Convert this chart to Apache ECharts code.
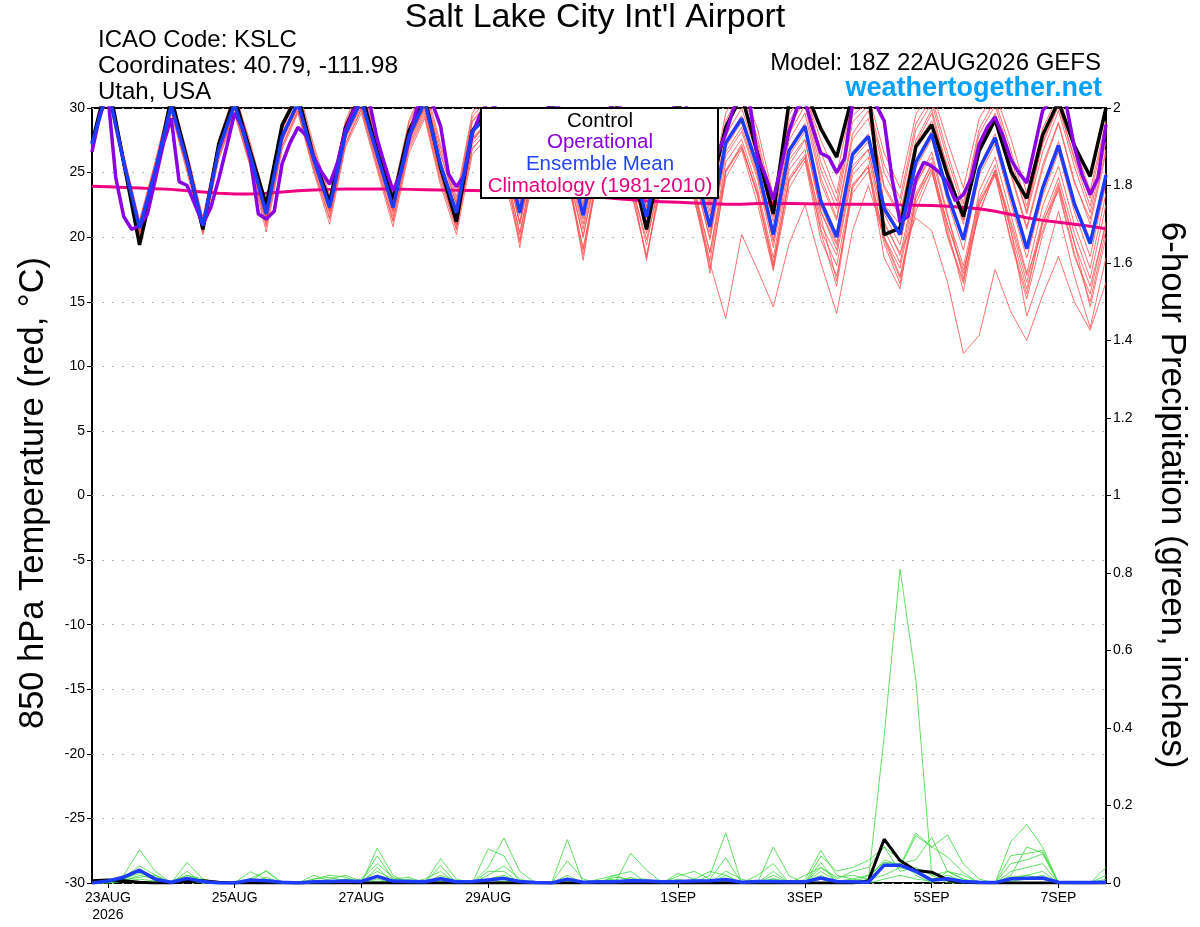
<!DOCTYPE html>
<html><head><meta charset="utf-8">
<script src="https://cdn.jsdelivr.net/npm/echarts@6/dist/echarts.min.js"></script>
<style>html,body{margin:0;padding:0;background:#fff}#c{width:1200px;height:927px}</style>
</head><body><div id="c"></div>
<script>
const FONT = '"Liberation Sans", Arial, Helvetica, sans-serif';

// x tick labels (6-hourly categories from 22AUG 18Z)
const xTickIndex = [1, 9, 17, 25, 37, 45, 53, 61];
const xTickLabels = ['23AUG\n2026', '25AUG', '27AUG', '29AUG', '1SEP', '3SEP', '5SEP', '7SEP'];

// Control (black) 850 hPa temperature, 6-hourly
const control = [
27.3,32.2,25.8,19.4,24.8,30.8,26.0,20.6,27.2,30.8,26.6,22.5,28.7,31.0,26.1,22.7,
28.5,31.2,26.6,22.9,28.2,30.8,25.4,21.2,28.2,30.0,26.8,23.4,28.0,30.5,26.5,23.3,
28.0,30.6,26.0,20.6,26.5,30.5,26.8,23.5,28.5,31.0,26.5,21.8,30.5,31.5,28.4,26.2,
31.0,31.5,20.2,20.7,27.0,28.7,24.8,21.6,26.7,29.1,25.1,23.0,27.9,30.5,27.1,24.7,30.0];

// Ensemble mean (blue)
const ensMean = [
27.2,31.5,25.8,20.7,25.2,30.2,25.8,20.9,26.8,30.3,26.3,21.8,27.8,30.4,26.0,22.3,
28.0,30.6,26.4,22.3,27.8,30.5,25.6,21.9,28.2,29.4,27.0,21.9,27.5,29.8,26.5,21.7,
27.5,29.8,26.0,21.6,27.0,29.5,25.5,20.8,27.3,29.2,25.5,20.2,26.7,28.6,22.8,20.0,
26.4,27.8,22.2,20.2,25.8,28.0,23.3,19.8,25.3,27.7,23.3,19.1,23.8,27.1,22.6,19.5,24.8];

// Operational (purple), 3-hourly
const operational = [
26.6,29.5,31.0,24.6,21.6,20.6,20.9,21.8,24.5,27.2,29.2,24.3,24.0,22.5,21.0,22.3,
24.5,27.0,29.6,28.5,26.0,21.8,21.4,22.0,25.7,27.3,28.5,27.9,26.2,25.0,24.1,25.8,
28.3,29.8,30.5,30.5,27.6,25.5,23.6,25.0,27.5,30.0,30.5,30.3,28.6,24.9,23.9,24.8,
28.0,29.5,30.5,30.0,27.5,25.5,24.0,25.0,27.8,29.5,30.5,30.0,27.5,25.2,23.8,24.8,
27.9,29.7,30.6,29.8,27.2,25.0,23.5,24.5,27.6,29.5,30.8,30.2,27.7,25.6,24.0,26.5,
28.0,30.0,30.8,30.5,26.2,24.8,22.9,25.5,28.2,30.0,30.5,28.4,26.5,26.2,25.0,26.1,
30.3,30.8,30.6,30.2,29.0,24.5,21.2,21.6,24.5,25.8,25.5,25.0,24.2,22.8,23.3,24.6,
27.2,28.5,29.3,27.8,26.0,25.0,24.2,27.0,29.8,30.5,30.8,30.2,27.0,24.8,23.3,24.6,28.7];

// Climatology 1981-2010 (magenta)
const climatology = [
23.95,23.9,23.85,23.8,23.75,23.7,23.6,23.5,23.4,23.35,23.35,23.4,23.5,23.6,23.65,23.7,
23.72,23.73,23.73,23.72,23.7,23.68,23.66,23.64,23.62,23.6,23.55,23.5,23.45,23.4,23.3,23.2,
23.1,23.0,22.9,22.8,22.75,22.7,22.65,22.6,22.55,22.55,22.6,22.62,22.6,22.58,22.56,22.55,
22.55,22.54,22.53,22.5,22.48,22.45,22.4,22.3,22.2,22.0,21.75,21.5,21.3,21.15,21.0,20.85,20.65];

// Ensemble members (red)
const mem01 = [27.4,31.8,26.2,21.0,25.6,30.6,26.1,21.2,27.1,30.9,26.8,22.0,28.3,31.0,26.5,22.6,28.4,31.2,27.0,22.8,28.3,31.2,26.4,22.5,28.9,30.4,27.8,22.7,28.4,30.9,27.3,22.6,28.6,30.8,27.1,22.4,28.0,30.6,26.8,22.0,28.5,30.6,26.9,21.6,28.0,30.2,24.6,21.5,28.0,29.8,24.0,21.8,27.5,29.9,25.2,21.3,27.0,29.4,25.0,20.8,25.6,28.9,24.4,21.0,26.5];
const mem02 = [27.0,31.2,25.4,20.3,24.8,29.8,25.3,20.4,26.3,29.7,25.6,21.0,27.1,29.8,25.2,21.4,27.2,29.9,25.5,21.2,26.8,29.4,24.3,20.6,26.9,28.2,25.6,20.4,26.0,28.4,25.0,20.1,25.8,28.1,24.3,19.8,25.2,27.6,23.6,18.8,25.2,27.0,23.3,18.0,24.4,26.1,20.6,17.8,24.0,25.4,20.0,17.6,23.4,25.6,21.0,17.2,22.8,25.0,20.9,16.5,21.4,24.6,20.3,16.8,22.5];
const mem03 = [27.5,32.0,26.4,21.3,25.9,31.0,26.6,21.5,27.6,31.2,27.3,22.6,28.8,31.6,27.1,23.2,29.0,31.9,27.6,23.4,29.0,31.9,27.2,23.1,29.6,31.2,28.6,23.6,29.4,31.5,28.2,23.8,29.5,31.6,28.1,23.7,29.2,31.6,28.0,23.4,29.6,31.8,28.4,23.2,29.5,31.4,26.6,23.4,29.8,31.0,26.5,23.8,29.5,31.4,27.4,23.8,29.2,31.2,27.6,23.4,28.4,31.0,27.2,23.6,29.0];
const mem04 = [27.1,31.4,25.7,20.6,25.0,30.0,25.6,20.7,26.6,30.1,26.0,21.5,27.6,30.2,25.7,22.0,27.8,30.4,26.1,22.0,27.5,30.0,25.0,21.2,27.6,28.8,26.2,21.2,26.8,29.1,25.8,21.0,27.0,29.2,25.3,20.9,26.3,28.6,24.6,20.0,26.6,28.5,24.8,19.8,26.0,27.6,22.0,19.4,25.5,26.8,21.0,18.8,21.5,20.5,16.5,11.0,12.4,17.5,14.2,12.0,15.5,18.5,15.0,12.8,16.5];
const mem05 = [27.2,31.6,25.9,20.8,25.3,30.3,25.9,21.0,26.9,30.4,26.4,21.6,27.7,30.5,26.2,22.1,28.1,30.7,26.5,22.2,27.5,30.2,25.5,21.4,27.7,29.0,26.4,21.0,26.6,29.0,25.5,20.0,26.4,28.4,25.0,20.3,26.0,28.5,23.0,18.0,13.7,20.2,17.5,14.6,19.5,22.5,18.0,14.1,20.5,24.0,20.0,17.0,22.0,25.0,21.0,17.5,21.8,25.2,21.2,17.0,20.5,24.0,19.5,16.2,21.0];
const mem06 = [27.3,32.0,25.9,19.8,25.0,30.6,26.0,20.8,27.0,30.7,26.5,22.3,28.5,30.9,26.0,22.6,28.4,31.1,26.7,22.9,28.0,30.8,25.6,21.6,28.3,30.0,27.3,23.0,28.1,30.4,26.8,23.1,28.2,30.7,26.5,21.5,27.2,30.4,26.9,23.0,28.4,30.9,26.8,22.2,30.0,31.2,27.5,24.8,30.6,31.2,22.5,21.0,27.2,29.0,25.5,21.4,27.0,29.6,25.6,22.0,27.4,30.2,26.2,23.0,28.8];
const mem07 = [26.9,31.0,25.3,20.2,24.6,29.6,25.0,20.2,26.0,29.5,25.4,20.4,26.8,29.6,25.0,21.0,27.0,29.6,25.2,20.8,26.5,29.2,24.0,20.2,26.4,27.8,24.6,19.6,25.4,27.9,24.4,19.2,25.0,27.4,23.6,18.6,24.3,27.0,23.0,17.6,24.6,26.8,22.6,17.4,23.8,25.9,19.8,17.0,23.4,25.1,19.5,16.4,22.6,25.4,20.2,16.6,22.0,24.9,19.6,15.2,20.2,23.8,18.8,15.0,20.6];
const mem08 = [27.4,31.9,26.3,21.2,25.8,30.8,26.4,21.4,27.4,31.0,27.0,22.4,28.6,31.2,26.8,23.0,28.8,31.6,27.4,23.2,28.8,31.5,26.9,22.8,29.3,30.8,28.2,23.3,29.0,31.2,27.9,23.4,29.1,31.2,27.6,23.1,28.6,31.2,27.3,22.7,29.0,31.4,27.7,22.5,29.0,30.9,25.8,22.8,29.4,30.5,25.6,23.0,28.8,30.8,26.5,22.6,28.4,30.6,26.7,22.4,27.2,30.2,26.0,22.4,28.0];
const mem09 = [27.0,31.3,25.5,20.4,24.9,29.9,25.4,20.5,26.4,29.9,25.8,21.2,27.4,30.0,25.5,21.8,27.6,30.1,25.8,21.6,27.2,29.8,24.8,20.6,27.2,28.6,25.9,19.2,26.4,28.8,25.2,18.2,25.9,28.2,24.6,18.2,25.5,28.0,23.9,18.8,25.8,27.6,23.8,18.4,25.2,26.8,21.0,18.6,24.8,26.2,20.6,18.0,24.0,26.6,21.8,16.8,23.6,26.2,21.7,17.2,22.4,25.5,21.0,17.6,23.4];
const mem10 = [27.2,31.5,25.8,20.7,25.2,30.2,25.7,20.9,26.8,30.3,26.2,21.7,27.9,30.5,26.1,22.4,28.0,30.6,26.3,22.4,27.9,30.5,25.7,22.0,28.1,29.5,27.0,22.0,27.6,29.9,26.6,21.8,27.6,29.9,26.1,21.7,27.1,29.6,25.7,21.0,27.5,29.4,25.7,20.4,26.9,28.8,23.0,20.3,26.6,28.0,22.4,20.4,26.0,28.2,23.5,20.0,25.5,28.0,23.5,19.4,24.0,27.4,22.8,19.8,25.0];
const mem11 = [27.3,31.7,26.0,20.9,25.4,30.4,26.0,21.1,27.0,30.6,26.6,22.0,28.0,30.7,26.3,22.5,28.2,30.9,26.7,22.6,28.0,30.8,25.8,22.2,28.4,29.8,27.2,22.4,27.8,30.3,26.8,22.4,27.9,30.2,26.4,22.3,27.4,30.0,26.2,21.6,27.9,30.0,26.2,21.2,27.5,29.6,24.2,21.3,27.6,29.2,23.8,21.6,27.2,29.6,24.8,21.0,26.8,29.2,24.8,20.6,25.3,28.8,24.2,21.4,26.8];
const mem12 = [27.1,31.3,25.6,20.5,25.0,30.0,25.5,20.6,26.5,30.0,26.0,21.3,27.5,30.1,25.8,22.0,27.7,30.3,26.0,21.9,27.4,30.0,25.2,21.3,27.4,28.9,26.3,21.0,26.8,29.2,25.7,20.6,26.6,28.9,25.4,20.6,26.4,28.6,24.9,19.8,26.3,28.2,24.5,19.2,25.6,27.5,22.0,19.0,25.2,26.8,21.2,18.6,24.2,26.2,21.6,17.8,23.0,25.6,20.5,13.9,17.5,22.0,17.0,13.0,18.4];
const mem13 = [27.2,31.6,25.9,20.8,25.3,30.3,25.9,21.0,26.9,30.4,26.4,21.9,27.9,30.6,26.2,22.5,28.1,30.8,26.6,22.5,27.9,30.7,25.8,21.8,28.3,29.6,27.1,21.7,27.5,29.9,26.4,21.4,27.4,29.7,25.8,21.2,26.8,29.3,25.2,20.4,27.0,28.9,25.0,19.6,26.3,28.2,22.4,19.6,26.0,27.4,21.8,19.4,25.4,27.6,22.8,19.0,24.8,27.2,22.6,18.4,23.2,26.6,22.0,18.5,24.2];
const mem14 = [27.1,31.4,25.7,20.6,25.1,30.1,25.7,20.8,26.7,30.2,26.1,21.6,27.6,30.2,25.8,22.1,27.8,30.4,26.2,22.1,27.6,30.2,25.3,21.0,27.5,29.0,26.0,20.2,26.5,28.6,25.0,19.0,25.8,28.0,24.4,19.4,25.4,27.8,24.0,17.2,25.0,27.0,23.5,17.8,24.6,26.4,20.4,16.2,23.8,25.6,19.8,16.8,23.0,25.8,20.6,15.8,22.4,25.2,20.4,16.0,21.0,24.2,19.6,14.6,20.0];
const mem15 = [27.4,31.8,26.1,21.1,25.6,30.6,26.2,21.3,27.2,30.8,26.8,22.2,28.3,31.1,26.6,22.8,28.6,31.3,27.1,23.0,28.5,31.2,26.5,22.6,29.0,30.5,27.9,23.0,28.7,30.9,27.5,23.2,28.8,31.0,27.2,22.9,28.3,30.9,27.0,22.4,28.7,31.0,27.3,22.0,28.6,30.6,25.2,22.2,28.9,30.2,25.0,22.5,28.3,30.4,26.0,22.2,28.0,30.2,26.2,21.8,26.6,29.8,25.5,21.9,27.4];
const mem16 = [27.0,31.2,25.5,20.3,24.8,29.8,25.3,20.3,26.2,29.7,25.6,20.8,27.0,29.8,25.3,21.5,27.3,29.9,25.5,21.3,27.0,29.6,24.6,20.9,26.8,28.3,25.4,19.8,26.0,28.3,24.6,18.6,25.2,27.6,23.9,18.4,24.8,27.4,23.4,18.2,25.1,27.2,23.2,17.6,24.4,26.2,21.6,16.6,24.1,25.4,18.4,16.0,23.2,25.2,20.0,16.4,22.6,24.8,19.8,15.6,21.2,23.6,18.5,15.6,21.2];
const members = [mem01,mem02,mem03,mem04,mem05,mem06,mem07,mem08,mem09,mem10,mem11,mem12,mem13,mem14,mem15,mem16];

// 6-hour precipitation (inches)
const precipControl = [0.006,0.008,0.006,0.002,0,0,0.004,0.006,0.002,0,0,0,0,0,0,0,0,0,0,0,0,0,0,0,0,0,0,0,0,0,0,0,0,0,0,0,0,0,0,0,0,0,0,0,0,0,0,0,0,0.005,0.113,0.058,0.032,0.028,0.008,0.002,0,0,0,0,0,0,0,0,0];
const precipMean = [0,0.005,0.015,0.033,0.01,0.002,0.012,0.004,0,0,0.008,0.006,0.002,0,0.003,0.004,0.005,0.004,0.017,0.005,0.004,0.003,0.011,0.003,0.004,0.008,0.012,0.004,0.001,0,0.01,0.002,0.003,0.003,0.006,0.005,0.003,0.004,0.005,0.006,0.009,0.002,0.004,0.004,0.003,0.003,0.013,0.004,0.003,0.002,0.046,0.046,0.03,0.007,0.011,0.004,0.002,0.001,0.011,0.012,0.013,0.002,0.001,0.001,0.002];
const pm01 = [0,0.004,0.02,0.086,0.03,0,0.053,0.01,0,0,0.012,0.03,0,0,0.01,0.015,0.005,0,0.09,0.02,0,0,0.063,0.01,0,0.04,0.116,0.03,0,0,0.02,0,0,0,0.077,0.033,0,0.025,0.01,0,0.02,0,0,0.012,0,0.008,0.084,0.02,0.01,0.005,0.38,0.81,0.525,0.02,0,0,0,0,0.015,0.02,0.01,0,0,0,0.01];
const pm02 = [0,0.002,0.015,0.044,0.02,0,0.03,0,0,0,0.005,0.032,0,0,0,0,0.01,0.005,0.07,0.01,0.015,0,0.045,0,0,0.088,0.07,0,0,0,0.112,0,0.01,0.02,0.03,0,0,0,0,0.02,0.129,0,0,0.02,0,0,0.07,0.031,0.04,0.058,0.093,0.06,0.02,0,0.03,0.01,0,0,0.107,0.151,0.093,0,0,0,0];
const pm03 = [0,0.005,0.017,0.035,0.01,0.005,0.02,0.01,0,0,0.029,0.01,0.003,0,0.02,0.005,0,0.01,0.05,0.015,0,0.01,0.03,0,0,0.02,0.044,0.01,0,0,0.057,0.01,0,0.015,0.01,0.01,0,0.018,0.03,0.01,0.065,0,0,0.093,0.018,0,0.053,0,0,0.02,0.053,0.04,0.122,0.093,0.124,0.049,0.01,0,0.071,0.076,0.084,0,0,0,0.04];
const pm04 = [0,0,0.01,0.03,0.005,0,0.01,0,0,0,0,0.015,0,0,0.01,0.02,0.015,0,0.04,0,0.005,0,0.02,0.005,0,0.03,0.03,0,0,0,0,0,0,0,0.015,0,0,0.01,0,0,0.031,0.01,0,0.03,0,0.02,0.04,0.015,0.02,0.01,0.06,0.045,0.129,0.093,0.067,0.027,0,0,0.02,0.093,0.078,0,0,0,0];
const pm05 = [0,0.003,0.01,0.025,0.015,0,0.02,0.005,0,0,0,0,0,0,0,0.01,0.02,0.005,0.03,0.01,0,0,0.015,0,0,0.01,0.02,0,0,0,0.01,0,0,0.02,0.005,0,0,0,0.01,0.03,0.02,0,0.02,0.05,0,0,0.04,0.01,0.03,0.04,0.093,0.03,0.04,0.02,0.03,0.01,0,0,0.05,0.06,0.075,0,0,0,0.02];
const pm06 = [0,0,0.005,0.02,0.01,0,0.015,0,0,0,0.01,0.005,0,0,0.005,0,0,0,0.02,0.005,0.01,0,0.01,0,0,0.005,0.01,0,0,0,0.005,0,0.005,0.01,0,0,0,0,0,0,0.01,0,0,0.01,0,0,0.03,0.005,0.01,0.02,0.053,0.05,0.06,0.118,0.03,0.02,0,0,0.03,0.04,0.05,0,0,0,0.005];
const pm07 = [0,0.002,0.008,0.015,0.02,0,0.01,0,0,0,0,0,0,0,0,0.005,0.01,0,0.01,0,0,0,0.005,0,0,0,0.005,0,0,0,0,0,0,0,0.005,0,0,0,0,0,0.005,0,0,0.005,0,0,0.02,0,0,0.01,0.02,0.04,0.03,0.01,0.02,0.005,0,0,0.01,0.02,0.03,0,0,0,0];
const pm08 = [0,0,0.005,0.01,0.005,0,0.005,0,0,0,0,0,0,0,0,0,0,0,0.005,0,0,0,0,0,0,0,0,0,0,0,0,0,0,0,0,0,0,0,0,0,0,0,0,0,0,0,0.01,0,0,0,0.01,0.02,0.01,0.005,0.01,0,0,0,0.005,0.01,0.02,0,0,0,0];
const precipMembers = [pm01,pm02,pm03,pm04,pm05,pm06,pm07,pm08];

// category axes: 6-hourly and 3-hourly valid times from 22AUG2026 18Z
function validTimes(n, step) {
  const out = [];
  for (let k = 0; k < n; k++) {
    const h = 18 + step * k;
    const d = 22 + Math.floor(h / 24);
    const hh = h % 24;
    const day = d <= 31 ? d + 'AUG' : (d - 31) + 'SEP';
    out.push(day + String(hh).padStart(2, '0') + 'Z');
  }
  return out;
}
const times = validTimes(65, 6);
const opTimes = validTimes(129, 3);

const showTick = (idx) => xTickIndex.indexOf(idx) >= 0;

const series = [];
members.forEach((m, k) => series.push({
  type: 'line', name: 'member' + (k + 1), data: m, xAxisIndex: 0, yAxisIndex: 0,
  showSymbol: false, symbol: 'none', silent: true, z: 2,
  lineStyle: { color: '#ff5050', width: 0.8 }
}));
precipMembers.forEach((m, k) => series.push({
  type: 'line', name: 'pmember' + (k + 1), data: m, xAxisIndex: 0, yAxisIndex: 1,
  showSymbol: false, symbol: 'none', silent: true, z: 2,
  lineStyle: { color: '#3ad83a', width: 0.8 }
}));
series.push({ type: 'line', name: 'Climatology', data: climatology, xAxisIndex: 0, yAxisIndex: 0,
  showSymbol: false, symbol: 'none', z: 3, lineStyle: { color: '#f00080', width: 3 } });
series.push({ type: 'line', name: 'Control precip', data: precipControl, xAxisIndex: 0, yAxisIndex: 1,
  showSymbol: false, symbol: 'none', z: 4, lineStyle: { color: '#000', width: 3 } });
series.push({ type: 'line', name: 'Mean precip', data: precipMean, xAxisIndex: 0, yAxisIndex: 1,
  showSymbol: false, symbol: 'none', z: 5, lineStyle: { color: '#1e3cff', width: 3.5 } });
series.push({ type: 'line', name: 'Control', data: control, xAxisIndex: 0, yAxisIndex: 0,
  showSymbol: false, symbol: 'none', z: 4, lineStyle: { color: '#000', width: 3.5 } });
series.push({ type: 'line', name: 'Operational', data: operational, xAxisIndex: 1, yAxisIndex: 0,
  showSymbol: false, symbol: 'none', z: 5, lineStyle: { color: '#8a00e0', width: 3.5 } });
series.push({ type: 'line', name: 'Ensemble Mean', data: ensMean, xAxisIndex: 0, yAxisIndex: 0,
  showSymbol: false, symbol: 'none', z: 6, lineStyle: { color: '#1e3cff', width: 3.5 } });

const txt = (text, x, y, size, opts) => ({
  type: 'text', x: x, y: y, z: 100,
  style: Object.assign({ text: text, fill: '#000', fontSize: size, fontFamily: FONT,
    textAlign: 'left', textVerticalAlign: 'middle' }, opts || {})
});

const graphic = [
  txt("Salt Lake City Int'l Airport", 595, 18, 34, { textAlign: 'center' }),
  txt('ICAO Code: KSLC', 98, 40, 24),
  txt('Coordinates: 40.79, -111.98', 98, 66, 24.5),
  txt('Utah, USA', 98, 92, 24),
  txt('Model: 18Z 22AUG2026 GEFS', 1101, 63, 24, { textAlign: 'right' }),
  txt('weathertogether.net', 1102, 89, 27, { textAlign: 'right', fill: '#00a0ff', fontWeight: 'bold' }),
  Object.assign(txt('850 hPa Temperature (red, \u00B0C)', 33, 493, 34.5, { textAlign: 'center' }), { rotation: Math.PI / 2 }),
  Object.assign(txt('6-hour Precipitation (green, inches)', 1172, 495, 35, { textAlign: 'center' }), { rotation: -Math.PI / 2 }),
  { type: 'rect', z: 99, shape: { x: 481, y: 108, width: 237, height: 90 },
    style: { fill: '#fff', stroke: '#000', lineWidth: 2 } },
  txt('Control', 600, 121, 20.5, { textAlign: 'center' }),
  txt('Operational', 600, 142, 20.5, { textAlign: 'center', fill: '#8a00e0' }),
  txt('Ensemble Mean', 600, 164, 20.5, { textAlign: 'center', fill: '#2244ff' }),
  txt('Climatology (1981-2010)', 600, 186, 20.5, { textAlign: 'center', fill: '#e6007e' })
];

const option = {
  animation: false,
  backgroundColor: '#fff',
  grid: { left: 92, right: 94, top: 108, bottom: 44, show: true, borderColor: '#000', borderWidth: 2,
          backgroundColor: 'rgba(0,0,0,0)' },
  xAxis: [
    { type: 'category', data: times, boundaryGap: false, position: 'bottom',
      axisLine: { show: false, onZero: false },
      axisTick: { show: true, interval: showTick, length: 5, lineStyle: { color: '#000', width: 1 } },
      axisLabel: { interval: showTick, color: '#000', fontSize: 14, fontFamily: FONT, margin: 7, lineHeight: 17,
        formatter: (v, idx) => { const k = xTickIndex.indexOf(idx); return k >= 0 ? xTickLabels[k] : ''; } },
      splitLine: { show: false } },
    { type: 'category', data: opTimes, boundaryGap: false, show: false, axisLine: { onZero: false } }
  ],
  yAxis: [
    { type: 'value', min: -30, max: 30, interval: 5, position: 'left',
      axisLine: { show: false, onZero: false },
      axisTick: { show: true, length: 5, lineStyle: { color: '#000', width: 1 } },
      axisLabel: { color: '#000', fontSize: 14, fontFamily: FONT, margin: 7 },
      splitLine: { show: true, lineStyle: { color: '#b4b4b4', width: 1, type: [2, 8] } } },
    { type: 'value', min: 0, max: 2, interval: 0.2, position: 'right',
      axisLine: { show: false, onZero: false },
      axisTick: { show: true, length: 5, lineStyle: { color: '#000', width: 1 } },
      axisLabel: { color: '#000', fontSize: 14, fontFamily: FONT, margin: 7 },
      splitLine: { show: false } }
  ],
  series: series,
  graphic: graphic
};

const chart = echarts.init(document.getElementById('c'), null, { renderer: 'canvas' });
chart.setOption(option);
</script>
</body></html>
